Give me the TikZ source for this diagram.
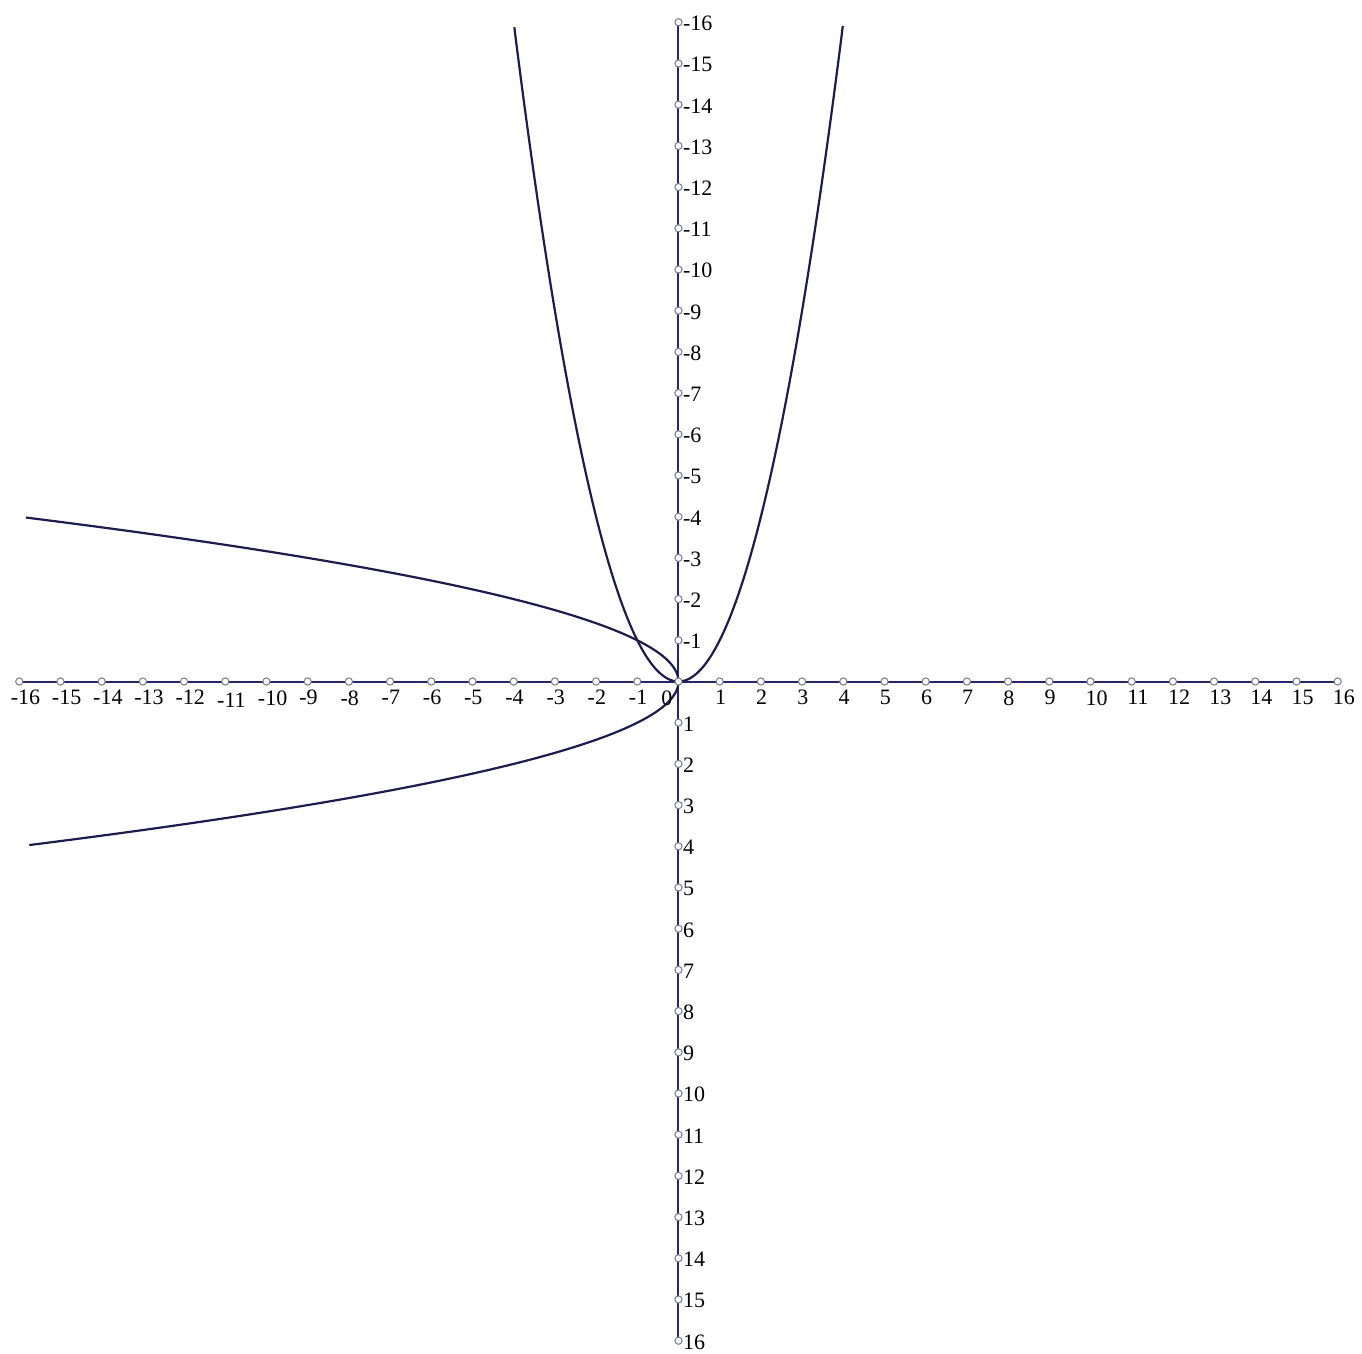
\documentclass[tikz,border=0pt]{standalone}
\usepackage{fontspec}
\setmainfont{Liberation Serif}
\definecolor{axisc}{RGB}{38,38,112}
\definecolor{curvec}{RGB}{28,28,78}
\definecolor{tickc}{RGB}{120,120,145}
\begin{document}
\begin{tikzpicture}[x=20.6pt,y=-20.6pt,
  axisline/.style={draw=axisc,line width=1pt},
  curveline/.style={draw=curvec,line width=1.1pt},
  tickmark/.style={circle,draw=tickc,fill=white,line width=0.5pt,inner sep=0pt,minimum size=3.6pt},
  xlab/.style={anchor=north,inner sep=0pt,font=\fontsize{11}{12}\selectfont},
  ylab/.style={anchor=west,inner sep=0pt,font=\fontsize{11}{12}\selectfont}]
\useasboundingbox (-16.468,-16.541) rectangle (16.590,16.299);
\coordinate (xl) at (-16,0);
\coordinate (xr) at (16,0);
\coordinate (yt) at (0,-16);
\coordinate (yb) at (0,16);
\draw[axisline] (xl) -- (xr);
\draw[axisline] (yt) -- (yb);
% curves
\draw[curveline] plot[domain=-3.985:3.99,samples=200,smooth] (\x,{-\x*\x});
\draw[curveline] plot[domain=-3.98:3.97,samples=200,smooth] ({-\x*\x},\x);
% ticks and labels on x axis
\foreach \i in {-16,...,16} {
  \node[tickmark] (xt\i) at (\i,0) {};
}
\foreach \i in {-16,...,-1,1,2,...,16} {
  \pgfmathsetmacro\dx{abs(\i)>9 ? 0.15 : 0.02}
  \pgfmathsetmacro\dy{\i==-11 ? 0.28 : 0.206}
  \node[xlab] (xn\i) at (\i+\dx,\dy) {\i};
}
\node[xlab] (xn0) at (-0.28,0.206) {0};
% ticks and labels on y axis
\foreach \i in {-16,...,-1,1,2,...,16} {
  \node[tickmark] (yt\i) at (0,\i) {};
  \node[ylab] (yn\i) at (0.1,\i+0.03) {\i};
}
\end{tikzpicture}
\end{document}
